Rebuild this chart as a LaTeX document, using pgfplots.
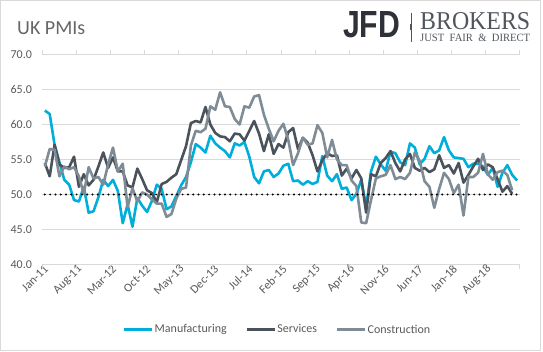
\documentclass[border=0pt]{standalone}
\usepackage{pgfplots}
\pgfplotsset{compat=1.18}
\usepackage{pgfplotstable}
\usepackage{graphicx}
\usepackage{fontspec}
\setmainfont{Carlito}
\newfontfamily\logosans{Liberation Sans}
\newfontfamily\logoserif{Liberation Serif}
\definecolor{mfgc}{HTML}{00AEDB}
\definecolor{srvc}{HTML}{4A525C}
\definecolor{conc}{HTML}{7F8C96}
\definecolor{txt}{HTML}{595959}
\definecolor{ttl}{HTML}{666666}
\definecolor{grd}{HTML}{D9D9D9}
\definecolor{logodark}{HTML}{2E3238}
\definecolor{logogray}{HTML}{50565D}

% Monthly PMI values, Jan-11 onward
\pgfplotstableread[row sep=\\]{v\\
62.0\\61.5\\57.1\\54.6\\52.1\\51.4\\49.2\\49.0\\51.1\\47.4\\47.6\\49.6\\
52.1\\51.2\\52.1\\50.5\\45.9\\48.6\\45.4\\49.5\\48.4\\47.5\\49.1\\51.4\\
50.8\\47.9\\48.3\\49.8\\51.3\\52.5\\54.6\\57.2\\56.7\\56.0\\58.4\\57.3\\
56.7\\56.2\\55.3\\57.3\\57.0\\57.5\\55.4\\52.5\\51.6\\53.3\\53.5\\52.5\\
53.0\\54.1\\54.4\\51.9\\52.0\\51.4\\51.9\\51.5\\51.8\\55.5\\52.7\\51.9\\
52.9\\50.8\\51.0\\49.2\\50.1\\52.1\\48.2\\53.3\\55.4\\54.3\\53.4\\56.1\\
55.9\\54.6\\54.2\\57.3\\56.7\\54.3\\55.1\\56.9\\55.9\\56.3\\58.2\\56.3\\
55.3\\55.2\\55.1\\53.9\\54.4\\54.4\\54.0\\52.8\\53.8\\51.1\\53.1\\54.2\\
52.8\\52.0\\
}\mfg

\pgfplotstableread[row sep=\\]{v\\
54.5\\52.6\\57.1\\54.3\\53.8\\53.9\\55.4\\51.1\\52.9\\51.3\\52.1\\54.0\\
56.0\\53.8\\55.3\\53.3\\53.3\\51.3\\51.0\\53.7\\52.2\\50.6\\50.2\\48.9\\
51.5\\51.8\\52.4\\52.9\\54.9\\56.9\\60.2\\60.5\\60.3\\62.5\\60.0\\58.8\\
58.3\\58.2\\57.6\\58.7\\58.6\\57.7\\59.1\\60.5\\58.7\\56.2\\58.6\\55.8\\
57.2\\56.7\\58.9\\59.5\\56.5\\58.1\\57.4\\55.6\\53.3\\54.9\\55.9\\55.5\\
55.6\\52.7\\53.7\\52.3\\53.5\\52.3\\47.4\\52.9\\52.6\\54.5\\55.2\\56.2\\
54.5\\53.3\\55.0\\55.8\\53.8\\53.4\\53.8\\53.2\\53.6\\55.6\\53.8\\54.2\\
53.0\\54.5\\51.7\\52.8\\54.0\\55.1\\53.5\\54.3\\53.9\\52.2\\50.4\\51.2\\
50.1\\
}\srv

\pgfplotstableread[row sep=\\]{v\\
54.0\\56.5\\56.4\\52.6\\54.0\\53.6\\53.9\\52.6\\50.1\\53.9\\52.3\\52.5\\
51.4\\54.3\\56.7\\53.3\\54.4\\48.2\\50.9\\49.0\\50.3\\50.0\\49.3\\48.7\\
48.7\\46.8\\47.2\\49.4\\50.8\\51.0\\57.0\\59.1\\58.9\\59.4\\62.6\\62.1\\
64.6\\62.6\\62.5\\60.8\\60.0\\62.6\\62.4\\64.0\\64.2\\61.4\\59.4\\57.6\\
59.1\\60.1\\57.8\\54.2\\55.9\\58.1\\57.1\\57.3\\59.9\\58.8\\55.3\\57.8\\
55.0\\54.2\\54.2\\52.0\\51.2\\46.0\\45.9\\49.2\\52.3\\52.6\\52.8\\54.2\\
52.2\\52.5\\52.2\\53.1\\56.0\\54.8\\51.9\\51.1\\48.1\\50.8\\53.1\\52.2\\
50.2\\51.4\\47.0\\52.5\\52.5\\53.1\\55.8\\52.9\\52.1\\53.2\\53.4\\52.8\\
50.6\\
}\con

\begin{document}
\begin{tikzpicture}
\path (0pt,0pt) rectangle (543pt,351pt);
\draw[grd, line width=0.8pt] (0.5pt,0.5pt) rectangle (540.5pt,350.5pt);
\begin{axis}[
  at={(42.4pt,86.5pt)}, anchor=south west,
  scale only axis, width=477.1pt, height=210pt,
  xmin=-0.5, xmax=97.5, ymin=40, ymax=70,
  axis line style={draw=none},
  ytick={40,45,...,70},
  ymajorgrids, grid style={grd, line width=0.8pt},
  major tick length=0pt,
  /pgf/number format/.cd, fixed, fixed zerofill, precision=1, assume math mode=true,
  /pgfplots/.cd,
  ticklabel style={font=\fontsize{12}{14}\selectfont, text=txt},
  yticklabel style={xshift=-7pt},
  xtick={0,7,...,91},
  xticklabels={Jan-11,Aug-11,Mar-12,Oct-12,May-13,Dec-13,Jul-14,Feb-15,Sep-15,Apr-16,Nov-16,Jun-17,Jan-18,Aug-18},
  xticklabel style={rotate=45, anchor=east, yshift=-3pt, inner sep=1pt},
  extra x ticks={-0.5,6.5,...,97.5},
  extra x tick labels={},
  extra x tick style={major tick length=4pt, tick align=outside, tick style={grd, line width=0.8pt}},
  legend style={at={(0.492,-0.31)}, anchor=center, draw=none, fill=none,
    legend columns=3, font=\fontsize{12}{14}\selectfont, text=txt,
    /tikz/every even column/.append style={column sep=17pt},
    nodes={inner sep=1.5pt}},
  legend image code/.code={\draw[#1, line width=2.6pt] (0pt,0pt) -- (28pt,0pt);},
]
\addplot[mfgc, line width=2.6pt, line join=round] table[x expr=\coordindex, y=v] {\mfg};
\addlegendentry{Manufacturing}
\addplot[srvc, line width=2.6pt, line join=round] table[x expr=\coordindex, y=v] {\srv};
\addlegendentry{Services}
\addplot[conc, line width=2.6pt, line join=round] table[x expr=\coordindex, y=v] {\con};
\addlegendentry{Construction}
\addplot[forget plot, black, line width=2.2pt, line cap=round, dash pattern=on 0pt off 5.3pt] coordinates {(0,50) (97,50)};
\end{axis}
\node[anchor=base west, inner sep=0pt, font=\fontsize{20}{24}\selectfont, text=ttl] at (17pt,316.7pt) {UK PMIs};
\node[anchor=south west, inner sep=0pt, text=logodark] at (343pt,313pt) {\resizebox{57pt}{26pt}{\logosans\bfseries JFD}};
\draw[logogray, line width=0.6pt] (411pt,309pt) -- (411pt,338pt);
\fill[logogray] (410pt,321pt) rectangle (412pt,327pt);
\node[anchor=south west, inner sep=0pt, text=logogray] at (420pt,321pt) {\resizebox{110pt}{17pt}{\logoserif BROKERS}};
\node[anchor=south west, inner sep=0pt, text=logogray] at (420pt,309.3pt) {\resizebox{110pt}{7.4pt}{\logoserif JUST\ \ FAIR\ \ \&\ \ DIRECT}};
\end{tikzpicture}
\end{document}
